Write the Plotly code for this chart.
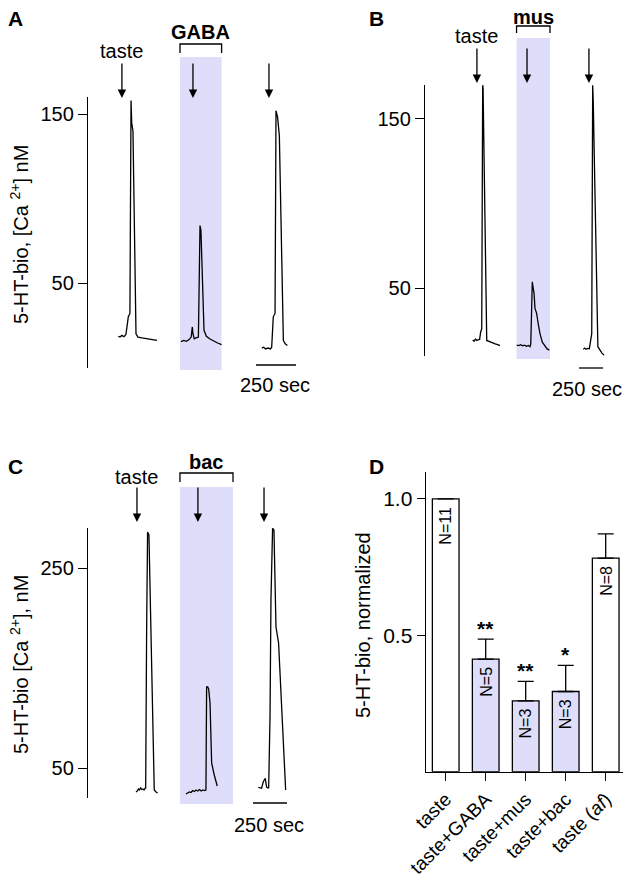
import plotly.graph_objects as go

W, H = 631, 885
OFF = 8  # the page body adds an 8 px margin around the figure
FONT = "Liberation Sans, Arial, sans-serif"
SHADE = "#dedefa"

# ---- panel A: 5-HT biosensor [Ca2+] (nM) vs time (s); taste, taste+GABA, taste again
a1_t = [189, 200, 212, 225, 237, 252, 262, 269, 273, 281, 300, 312, 337, 369, 400, 431]
a1_v = [18.5, 18, 19, 18.2, 19.5, 30, 32, 158, 145, 140, 20, 18, 17.5, 17, 16.5, 16]
a2_t = [581, 598, 615, 632, 645, 652, 656, 664, 675, 690, 700, 706, 725, 740, 760, 785, 810, 835]
a2_v = [15.3, 16, 15.5, 16.5, 18, 24, 20, 17, 17.5, 18, 84, 81, 22, 18.5, 17, 15.5, 14.5, 13.5]
a3_t = [1086, 1098, 1110, 1125, 1140, 1148, 1158, 1169, 1175, 1185, 1196, 1221, 1233, 1246]
a3_v = [11.5, 12, 11, 11.5, 11, 12, 30, 32, 152, 148, 137, 16, 14, 13]
a_stim = [212, 656, 1131]
a_drug = [575, 835]

# ---- panel B: taste, taste+muscimol, taste again
b1_t = [496, 510, 525, 540, 555, 568, 579, 590, 600, 604, 642, 660, 676, 700, 730, 755, 780]
b1_v = [19.2, 18.5, 19.8, 19, 19.5, 19.6, 24, 26, 170, 168, 19, 18.5, 18, 17.5, 17, 16.5, 16]
b2_t = [954, 975, 995, 1015, 1035, 1055, 1075, 1092, 1100, 1116, 1125, 1134, 1144, 1161, 1180, 1196, 1220, 1248, 1270, 1293]
b2_v = [16.3, 16, 16.5, 15.8, 16.2, 15.5, 16, 15.3, 17, 53.7, 50, 47, 38, 35, 28, 23, 18, 15.3, 14, 13.3]
b3_t = [1646, 1660, 1675, 1690, 1709, 1723, 1734, 1744, 1750, 1798, 1820, 1840, 1862]
b3_v = [13.7, 14.5, 13.8, 14.3, 14.1, 21, 23, 170, 160, 15.3, 13, 11.5, 10.4]
b_stim = [540, 1061, 1705]
b_drug = [952, 1300]

# ---- panel C: taste, taste+baclofen, taste again
c1_t = [353, 362, 370, 378, 386, 395, 404, 412, 419, 424, 431, 438, 448, 487, 500, 512]
c1_v = [26, 27, 29, 28, 30, 28.5, 29, 28, 29.7, 30, 188, 286, 283, 28, 26, 25]
c2_t = [720, 732, 745, 757, 770, 782, 795, 807, 820, 832, 845, 857, 867, 872, 880, 887, 897, 909, 918, 928, 940, 950]
c2_v = [24, 25, 26, 25.5, 27.5, 26.5, 28, 27, 28.5, 27, 28, 27.5, 28, 131, 131, 129, 115, 55, 48, 43, 37, 32]
c3_t = [1252, 1264, 1276, 1288, 1303, 1313, 1320, 1328, 1338, 1345, 1357, 1367, 1382, 1401, 1453]
c3_v = [30.7, 30, 29.7, 36, 39.7, 31, 30, 29.7, 101, 218, 289.7, 288, 191, 175, 28]
c_stim = [360, 808, 1294]
c_drug = [676, 1066]

# ---- panel D: normalized 5-HT release
d_labels = ["taste", "taste+GABA", "taste+mus", "taste+bac", "taste (<i>af</i>)"]
d_mean = [1.0, 0.413, 0.26, 0.294, 0.783]
d_sem = [0.0, 0.073, 0.071, 0.096, 0.089]
d_n = [11, 5, 3, 3, 8]
d_sig = ["", "**", "**", "*", ""]
d_drug = [False, True, True, True, False]


def X(p):
    return (p - OFF) / W


def Y(p):
    return 1 - (p - OFF) / H


def txt(size):
    return dict(size=size, family=FONT, color="black")


fig = go.Figure()

line = dict(color="black", width=1.3)
for t, v in [(a1_t, a1_v), (a2_t, a2_v), (a3_t, a3_v)]:
    fig.add_trace(go.Scatter(x=t, y=v, mode="lines", line=line, xaxis="x", yaxis="y"))
for t, v in [(b1_t, b1_v), (b2_t, b2_v), (b3_t, b3_v)]:
    fig.add_trace(go.Scatter(x=t, y=v, mode="lines", line=line, xaxis="x2", yaxis="y2"))
for t, v in [(c1_t, c1_v), (c2_t, c2_v), (c3_t, c3_v)]:
    fig.add_trace(go.Scatter(x=t, y=v, mode="lines", line=line, xaxis="x3", yaxis="y3"))

fig.add_trace(go.Bar(
    x=list(range(len(d_mean))), y=d_mean, width=0.667,
    marker=dict(color=[SHADE if g else "white" for g in d_drug],
                line=dict(color="black", width=1.3)),
    error_y=dict(type="data", array=d_sem, arrayminus=[0] * len(d_sem), symmetric=False,
                 color="black", thickness=1.3, width=8),
    xaxis="x4", yaxis="y4",
))

yax = dict(showline=True, linecolor="black", linewidth=1.3, ticks="outside", ticklen=9,
           tickwidth=1.3, tickcolor="black", showgrid=False, zeroline=False, automargin=False,
           tickfont=txt(20))
hid = dict(visible=False, showgrid=False, zeroline=False, automargin=False)

shapes, annos = [], []


def label(x, y, text, size, xref="paper", angle=0):
    annos.append(dict(x=x, y=y, xref=xref, yref="paper", text=text, textangle=angle,
                      xanchor="center", yanchor="middle", showarrow=False, borderpad=0,
                      font=txt(size)))


panels = [
    # xref, stim, drug, name, shade top/bottom px, arrow tip px, bracket px, bar y px, "250 sec" px, label y px
    ("x", a_stim, a_drug, "GABA", 57, 370, 98, (44, 53), 365, (275, 385), 32, 51),
    ("x2", b_stim, b_drug, "mus", 38, 359, 83, (26, 33), 368, (587, 389), 17, 36),
    ("x3", c_stim, c_drug, "bac", 487, 804, 522, (473, 482), 803, (269, 825), 462, 477),
]
bar_start = [1050, 1602, 1213]
for (xr, stim, drug, name, sh_top, sh_bot, tip, br, sb_y, sb_txt, name_y, taste_y), sb0 in zip(panels, bar_start):
    shapes.append(dict(type="rect", xref=xr, yref="paper", x0=drug[0], x1=drug[1],
                       y0=Y(sh_bot), y1=Y(sh_top), fillcolor=SHADE, line_width=0, layer="below"))
    shapes.append(dict(type="path", xref=xr, yref="paper",
                       path=f"M {drug[0]},{Y(br[1])} L {drug[0]},{Y(br[0])} L {drug[1]},{Y(br[0])} L {drug[1]},{Y(br[1])}",
                       line=dict(color="black", width=1.3)))
    shapes.append(dict(type="line", xref=xr, yref="paper", x0=sb0, x1=sb0 + 250,
                       y0=Y(sb_y), y1=Y(sb_y), line=dict(color="black", width=1.3)))
    label(X(sb_txt[0]), Y(sb_txt[1]), "250 sec", 20)
    label((drug[0] + drug[1]) / 2, Y(name_y), f"<b>{name}</b>", 20, xref=xr)
    label(stim[0], Y(taste_y), "taste", 20, xref=xr)
    for s in stim:
        annos.append(dict(x=s, y=Y(tip), xref=xr, yref="paper", text="", showarrow=True,
                          ax=0, ay=-36, arrowhead=2, arrowsize=1.3, arrowwidth=1.3,
                          arrowcolor="black", standoff=0))

# panel letters
for lab, (px, py) in zip("ABCD", [(15, 19), (376, 19), (15, 466), (376, 466)]):
    label(X(px), Y(py), f"<b>{lab}</b>", 21)

# y titles
for t, (px, py) in [("5-HT-bio, [Ca <sup>2+</sup>] nM", (19, 235)),
                    ("5-HT-bio [Ca <sup>2+</sup>], nM", (19, 665)),
                    ("5-HT-bio, normalized", (363, 625))]:
    label(X(px), Y(py), t, 20, angle=-90)

# N labels and significance stars
for i, (m, e, n, s) in enumerate(zip(d_mean, d_sem, d_n, d_sig)):
    annos.append(dict(x=i, y=m, xref="x4", yref="y4", text=f"N={n}", textangle=-90,
                      xanchor="center", yanchor="top", yshift=-6, showarrow=False, font=txt(16)))
    if s:
        annos.append(dict(x=i, y=m + e, xref="x4", yref="y4", text=f"<b>{s}</b>",
                          xanchor="center", yanchor="bottom", yshift=-3, showarrow=False,
                          font=txt(21)))

fig.update_layout(
    template="none",
    width=W, height=H, autosize=False, showlegend=False,
    margin=dict(l=0, r=0, t=0, b=0, pad=0),
    paper_bgcolor="white", plot_bgcolor="rgba(0,0,0,0)",
    font=dict(family=FONT, color="black"),
    xaxis=dict(domain=[X(88), X(310)], range=[0, 1387.5], anchor="y", **hid),
    yaxis=dict(domain=[Y(368), Y(97)], range=[-0.3, 160.1], anchor="x", tickvals=[50, 150], **yax),
    xaxis2=dict(domain=[X(425), X(625)], range=[0, 2080], anchor="y2", **hid),
    yaxis2=dict(domain=[Y(356), Y(85)], range=[9.8, 170.1], anchor="x2", tickvals=[50, 150], **yax),
    xaxis3=dict(domain=[X(88), X(310)], range=[0, 1632], anchor="y3", **hid),
    yaxis3=dict(domain=[Y(798), Y(528)], range=[20, 290], anchor="x3", tickvals=[50, 250], **yax),
    xaxis4=dict(domain=[X(425.7), X(625.7)], range=[-0.5, 4.5], anchor="y4",
                tickvals=list(range(len(d_labels))), ticktext=d_labels, tickangle=-45,
                showline=True, linecolor="black", linewidth=1.3, ticks="outside", ticklen=8,
                tickwidth=1.3, tickcolor="black", showgrid=False, zeroline=False, automargin=False,
                tickfont=txt(19)),
    yaxis4=dict(domain=[Y(771.7), Y(471.7)], range=[0, 1.1], anchor="x4",
                tickvals=[0.5, 1.0], ticktext=["0.5", "1.0"],
                **{**yax, "ticklen": 8, "tickfont": txt(21)}),
    shapes=shapes,
    annotations=annos,
)

fig.write_html("out.html")
